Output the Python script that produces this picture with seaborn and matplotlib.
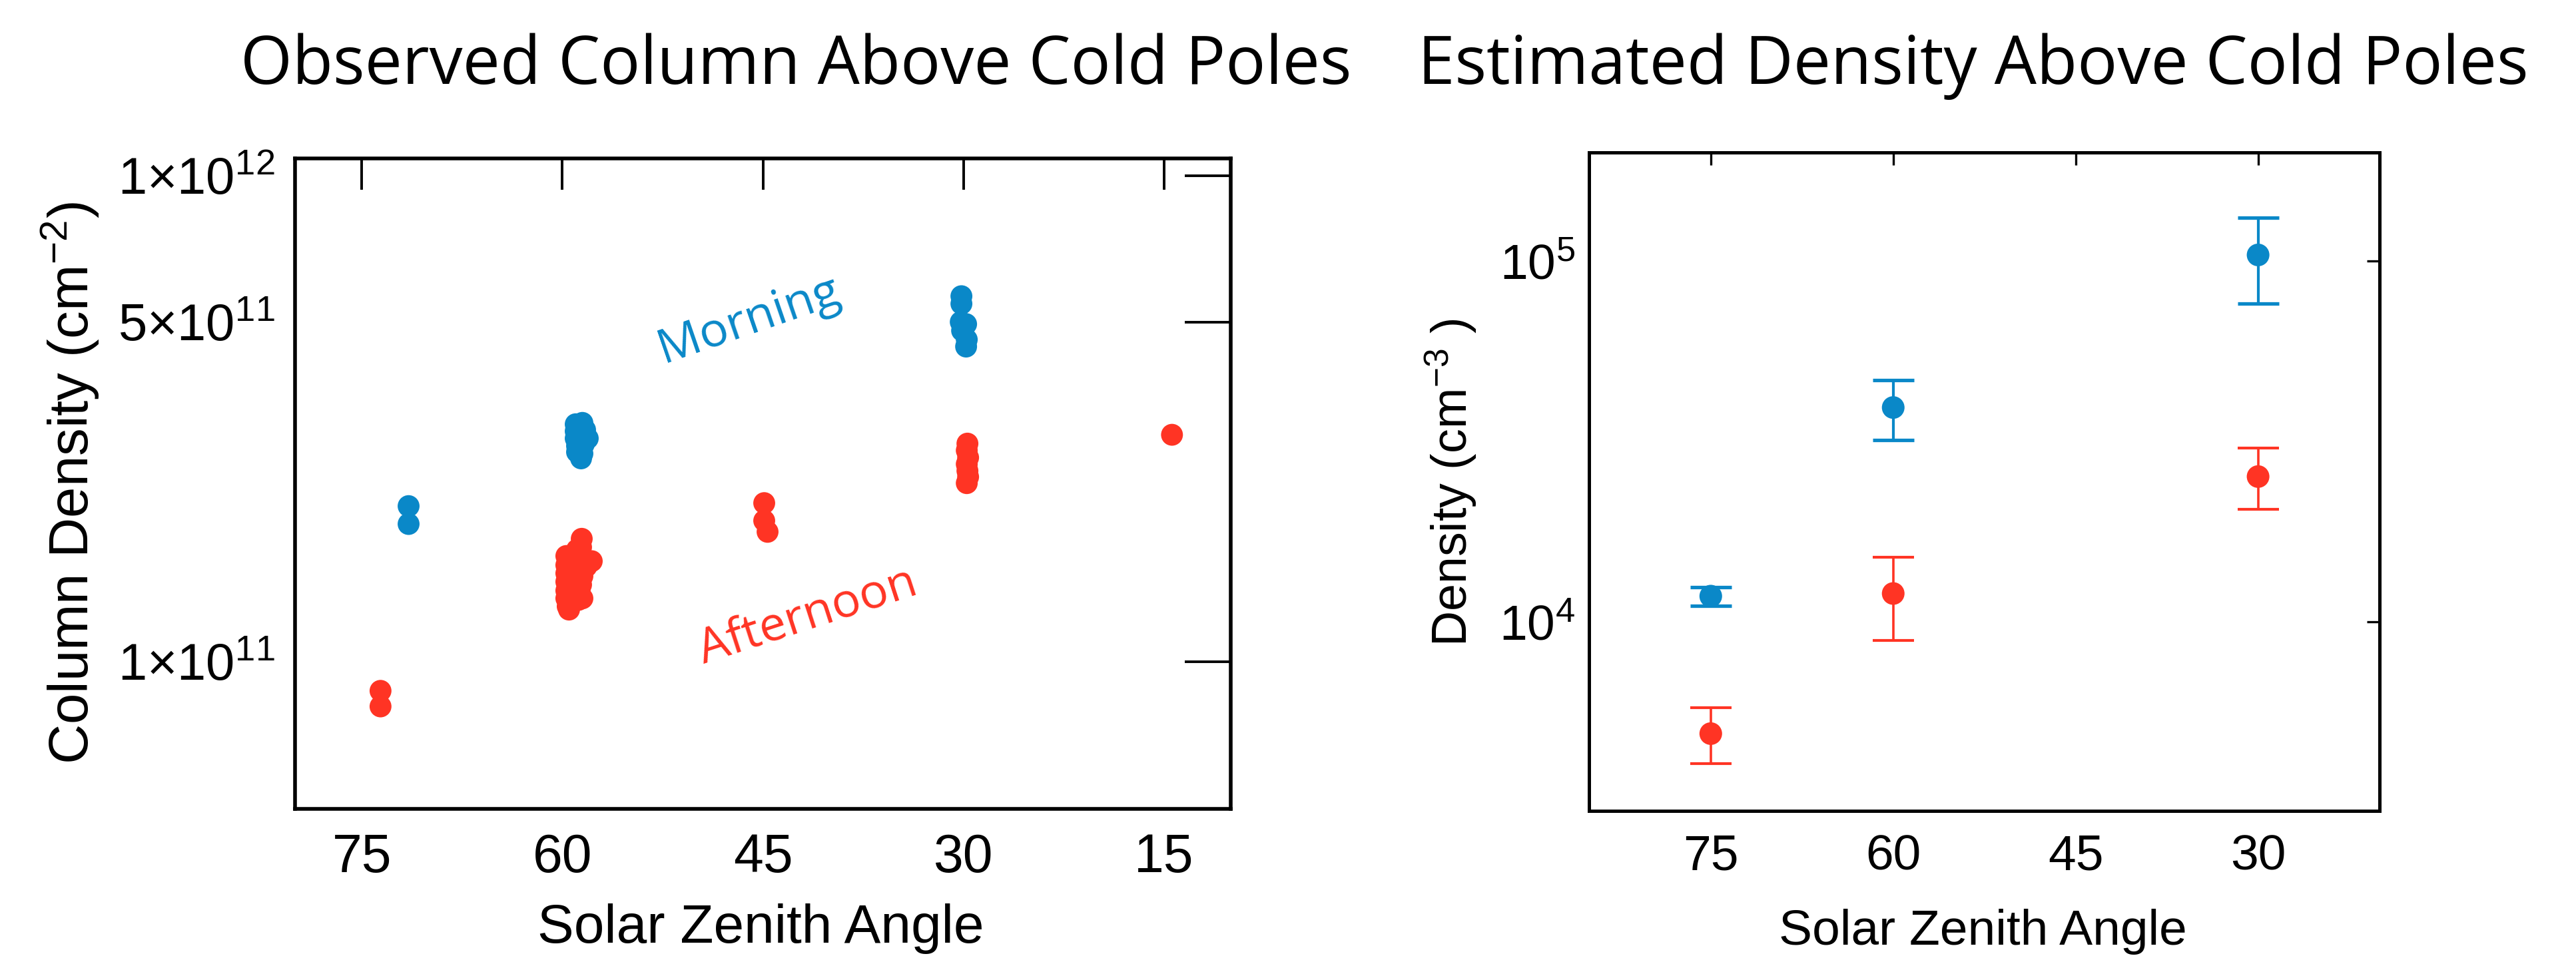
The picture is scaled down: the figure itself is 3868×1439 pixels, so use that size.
import numpy as np
import pandas as pd
import matplotlib
matplotlib.use("Agg")
import matplotlib.pyplot as plt
from matplotlib.ticker import NullLocator, FixedLocator, FixedFormatter
import seaborn as sns

# ---------------- data ----------------
# Left panel: observed column density (cm^-2) vs solar zenith angle
morning_sza = [71.5, 71.5,
               59.0, 58.5, 59.0, 58.3, 58.1, 59.0, 58.6, 58.9, 58.4, 58.9, 58.6, 58.5,
               30.15, 30.15, 30.2, 29.8, 30.1, 29.75, 29.8]
morning_col = [2.09e11, 1.92e11,
               3.08e11, 3.10e11, 2.98e11, 3.00e11, 2.88e11, 2.88e11, 2.95e11, 2.78e11,
               2.80e11, 2.70e11, 2.62e11, 2.68e11,
               5.65e11, 5.45e11, 5.00e11, 4.95e11, 4.80e11, 4.60e11, 4.45e11]

afternoon_sza = [73.6, 73.6,
                 58.55, 58.6, 58.9, 59.7, 59.2, 58.5, 57.8, 59.7, 59.3, 58.8, 58.2,
                 59.7, 59.1, 58.5, 59.7, 59.2, 58.6, 59.7, 59.2, 58.7, 58.8, 58.5,
                 59.7, 59.6, 59.5,
                 44.9, 44.9, 44.65,
                 29.7, 29.75, 29.65, 29.75, 29.7, 29.65, 29.75,
                 14.4]
afternoon_col = [8.71e10, 8.09e10,
                 1.79e11, 1.72e11, 1.70e11, 1.65e11, 1.66e11, 1.63e11, 1.61e11, 1.58e11,
                 1.57e11, 1.56e11, 1.57e11, 1.52e11, 1.50e11, 1.50e11, 1.46e11, 1.45e11,
                 1.44e11, 1.40e11, 1.40e11, 1.41e11, 1.34e11, 1.35e11,
                 1.35e11, 1.30e11, 1.28e11,
                 2.12e11, 1.95e11, 1.85e11,
                 2.81e11, 2.72e11, 2.63e11, 2.55e11, 2.47e11, 2.40e11, 2.33e11,
                 2.93e11]

# Right panel: estimated density (cm^-3) with error ranges
est_sza = [75, 60, 30]
morning_dens = [1.18e4, 3.93e4, 1.04e5]
morning_lo = [1.11e4, 3.19e4, 7.63e4]
morning_hi = [1.25e4, 4.68e4, 1.317e5]
afternoon_dens = [4.91e3, 1.20e4, 2.53e4]
afternoon_lo = [4.06e3, 8.88e3, 2.05e4]
afternoon_hi = [5.79e3, 1.51e4, 3.03e4]

left_xticks = [75, 60, 45, 30, 15]
right_xticks = [75, 60, 45, 30]
left_yticks = [1e11, 5e11, 1e12]
left_yticklabels = [r"$\mathregular{1{\times}10^{11}}$", r"$\mathregular{5{\times}10^{11}}$",
                    r"$\mathregular{1{\times}10^{12}}$"]
right_yticks = [1e4, 1e5]
right_yticklabels = [r"$\mathregular{10^{4}}$", r"$\mathregular{10^{5}}$"]

BLUE = "#0a88c8"
RED = "#ff3424"

# ---------------- style ----------------
sns.set_theme(style="white")
plt.rcParams["font.family"] = ["Liberation Sans", "DejaVu Sans"]
plt.rcParams["mathtext.fontset"] = "custom"
plt.rcParams["mathtext.rm"] = "Liberation Sans"
plt.rcParams["mathtext.it"] = "Liberation Sans:italic"
plt.rcParams["mathtext.bf"] = "Liberation Sans:bold"

fig = plt.figure(figsize=(19.34, 7.195), dpi=200)
ax1 = fig.add_axes([0.1145, 0.1557, 0.3633, 0.6789])
ax2 = fig.add_axes([0.6169, 0.1536, 0.3069, 0.6873])

# ---------------- left panel ----------------
df_obs = pd.DataFrame({
    "sza": morning_sza + afternoon_sza,
    "col": morning_col + afternoon_col,
    "period": ["Morning"] * len(morning_sza) + ["Afternoon"] * len(afternoon_sza),
})
sns.scatterplot(data=df_obs, x="sza", y="col", hue="period",
                palette={"Morning": BLUE, "Afternoon": RED},
                s=140, linewidth=0, alpha=1, legend=False, ax=ax1, zorder=3)
ax1.set_yscale("log")
ax1.set_xlim(80, 10)
ax1.set_ylim(4.98e10, 1.085e12)
ax1.xaxis.set_major_locator(FixedLocator(left_xticks))
ax1.xaxis.set_major_formatter(FixedFormatter([str(t) for t in left_xticks]))
ax1.yaxis.set_major_locator(FixedLocator(left_yticks))
ax1.yaxis.set_major_formatter(FixedFormatter(left_yticklabels))
ax1.yaxis.set_minor_locator(NullLocator())
ax1.xaxis.set_minor_locator(NullLocator())
ax1.tick_params(axis="both", direction="in", top=True, right=True, color="black",
                labelcolor="black", width=1.4)
ax1.tick_params(axis="y", length=25, pad=11, labelsize=28)
ax1.tick_params(axis="x", length=17, pad=13, labelsize=29)
for sp in ax1.spines.values():
    sp.set_color("black")
    sp.set_linewidth(2.0)
ax1.set_xlabel("Solar Zenith Angle", fontsize=29.5, color="black")
ax1.set_ylabel(r"Column Density (cm$^{-2}$)", fontsize=30, color="black")
ax1.xaxis.set_label_coords(0.498, -0.184)
ax1.xaxis.label.set_va("center")
ax1.yaxis.set_label_coords(-0.2397, 0.5005)
ax1.yaxis.label.set_va("center")

ax1.text(0.2908, 0.6657, "Morning", transform=fig.transFigure, color=BLUE,
         fontsize=26, family="Open Sans", rotation=19, ha="center", va="center")
ax1.text(0.3136, 0.3558, "Afternoon", transform=fig.transFigure, color=RED,
         fontsize=26, family="Open Sans", rotation=18, ha="center", va="center")

# ---------------- right panel ----------------
df_est = pd.DataFrame({
    "sza": est_sza + est_sza,
    "dens": morning_dens + afternoon_dens,
    "period": ["Morning"] * 3 + ["Afternoon"] * 3,
})
m_err = [np.array(morning_dens) - np.array(morning_lo),
         np.array(morning_hi) - np.array(morning_dens)]
a_err = [np.array(afternoon_dens) - np.array(afternoon_lo),
         np.array(afternoon_hi) - np.array(afternoon_dens)]
ax2.errorbar(est_sza, morning_dens, yerr=m_err, fmt="none", ecolor=BLUE,
             elinewidth=1.5, capsize=11, capthick=1.9, zorder=2)
ax2.errorbar(est_sza, afternoon_dens, yerr=a_err, fmt="none", ecolor=RED,
             elinewidth=1.3, capsize=11, capthick=1.5, zorder=2)
sns.scatterplot(data=df_est, x="sza", y="dens", hue="period",
                palette={"Morning": BLUE, "Afternoon": RED},
                s=150, linewidth=0, alpha=1, legend=False, ax=ax2, zorder=3)
ax2.set_yscale("log")
ax2.set_xlim(85, 20)
ax2.set_ylim(3.0e3, 2.0e5)
ax2.xaxis.set_major_locator(FixedLocator(right_xticks))
ax2.xaxis.set_major_formatter(FixedFormatter([str(t) for t in right_xticks]))
ax2.yaxis.set_major_locator(FixedLocator(right_yticks))
ax2.yaxis.set_major_formatter(FixedFormatter(right_yticklabels))
ax2.yaxis.set_minor_locator(NullLocator())
ax2.xaxis.set_minor_locator(NullLocator())
ax2.tick_params(axis="both", direction="in", top=True, right=True, color="black",
                labelcolor="black", width=1.2, length=7)
ax2.tick_params(axis="y", pad=7.5, labelsize=27)
ax2.tick_params(axis="x", pad=12.5, labelsize=27)
for sp in ax2.spines.values():
    sp.set_color("black")
    sp.set_linewidth(1.8)
ax2.set_xlabel("Solar Zenith Angle", fontsize=27, color="black")
ax2.set_ylabel(r"Density (cm$^{-3}$ )", fontsize=26.5, color="black")
ax2.xaxis.set_label_coords(0.498, -0.184)
ax2.xaxis.label.set_va("center")
ax2.yaxis.set_label_coords(-0.1753, 0.4985)
ax2.yaxis.label.set_va("center")

# ---------------- titles ----------------
fig.text(0.309, 0.931, "Observed Column Above Cold Poles", fontsize=36,
         family="Open Sans", ha="center", va="center", color="black")
fig.text(0.766, 0.931, "Estimated Density Above Cold Poles", fontsize=36,
         family="Open Sans", ha="center", va="center", color="black")

fig.savefig("out.png", dpi=200, facecolor="white")
